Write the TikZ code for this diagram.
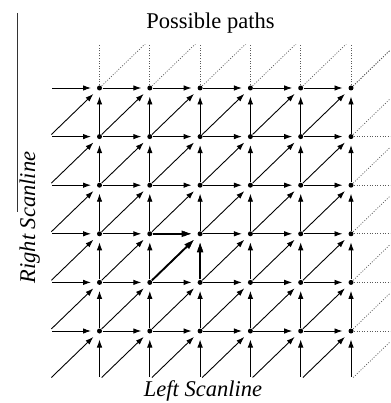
\documentclass[tikz,border=0pt]{standalone}
\usepackage{fontspec}
\setmainfont{Liberation Serif}
\usetikzlibrary{arrows.meta}
\begin{document}
\begin{tikzpicture}[x=1pt,y=-1pt,
  dot/.style={circle,fill=black,inner sep=0pt,minimum size=5pt},
  edge/.style={line width=0.9pt,-{Latex[length=8pt,width=5.5pt]},shorten >=8.5pt,shorten <=3pt},
  boldedge/.style={line width=1.9pt,-{Latex[length=10pt,width=7pt]},shorten >=8.5pt,shorten <=3pt},
  future/.style={line width=0.7pt,black!65,dash pattern=on 1pt off 1.6pt,shorten <=3pt},
  lab/.style={font=\fontsize{22.5}{27}\selectfont}]
\useasboundingbox (0,0) rectangle (390,403);
% grid coordinates
\foreach \i in {-1,...,6}
  \foreach \j in {-1,...,6}
    \coordinate (p\i_\j) at ({99.5+50.3*\i},{331-48.6*\j});
% incoming edges of every grid point
\foreach \i in {0,...,5}
  \foreach \j in {0,...,5} {
    \pgfmathtruncatemacro{\pi}{\i-1}
    \pgfmathtruncatemacro{\pj}{\j-1}
    \draw[edge] (p\pi_\j) -- (p\i_\j);
    \draw[edge] (p\i_\pj) -- (p\i_\j);
    \draw[edge] (p\pi_\pj) -- (p\i_\j);
  }
% highlighted edges
\draw[boldedge] (p1_2) -- (p2_2);
\draw[boldedge] (p1_1) -- (p2_2);
\draw[boldedge] (p2_1) -- (p2_2);
% continuing (dotted) paths
\begin{scope}
  \clip (0,45) rectangle (390,403);
  \foreach \i in {0,...,5} {
    \pgfmathtruncatemacro{\ni}{\i+1}
    \draw[future] (p\i_5) -- (p\i_6);
    \draw[future] (p\i_5) -- (p\ni_6);
  }
  \foreach \j in {-1,...,5} {
    \pgfmathtruncatemacro{\nj}{\j+1}
    \draw[future] (p5_\j) -- (p6_\nj);
  }
  \foreach \j in {0,...,4}
    \draw[future] (p5_\j) -- (p6_\j);
\end{scope}
% dots
\foreach \i in {0,...,5}
  \foreach \j in {0,...,5}
    \node[dot] (n\i_\j) at (p\i_\j) {};
% labels
\node[lab,anchor=base] (title) at (210.5,28.5) {Possible paths};
\node[lab,anchor=base,font=\fontsize{22.5}{27}\selectfont\itshape] (xlab) at (203,396.5) {Left Scanline};
\node[lab,anchor=base,rotate=90,font=\fontsize{22.5}{27}\selectfont\itshape] (ylab) at (35,217.5) {Right Scanline};
\coordinate (ltop) at (17.5,13);
\coordinate (lbot) at (17.5,212);
\draw[line width=1.1pt,black!80] (ltop) -- (lbot);
\end{tikzpicture}
\end{document}
